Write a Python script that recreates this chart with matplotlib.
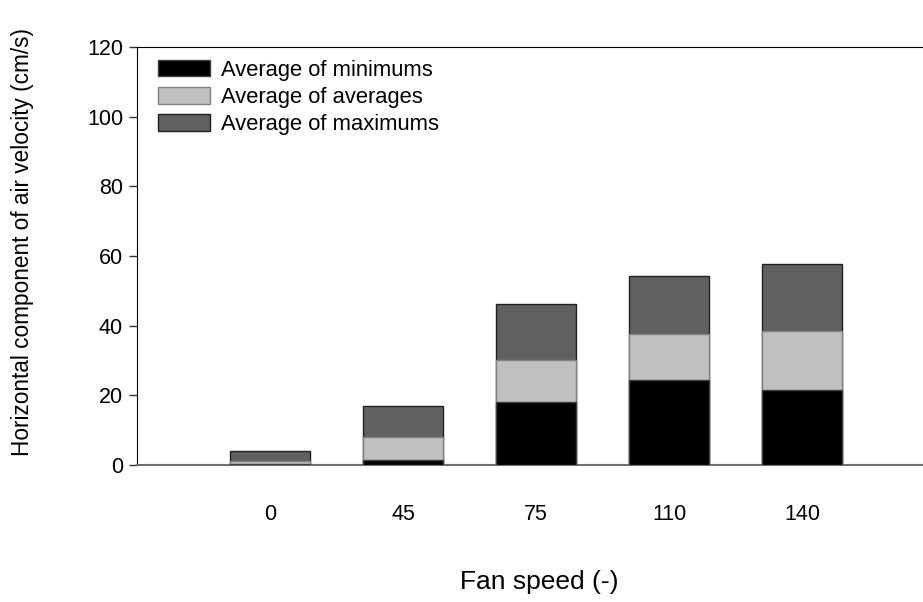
import numpy as np
import matplotlib.pyplot as plt

plt.rcParams['font.family'] = ['Liberation Sans', 'DejaVu Sans']

# fan speed settings and velocities (cm/s)
fan_speed = ['0', '45', '75', '110', '140']
avg_min = [0.2, 1.4, 18.2, 24.5, 21.6]
avg_avg = [1.2, 8.0, 30.1, 37.5, 38.5]
avg_max = [4.0, 16.9, 46.1, 54.2, 57.7]

fig = plt.figure(figsize=(9.23, 6.02), dpi=100)
ax = fig.add_axes([137 / 923, 1 - 465 / 602, 785 / 923, 418 / 602])

x = np.arange(len(fan_speed))
w = 0.6
# bars overlap, all from zero: max behind, min in front
ax.bar(x, avg_max, w, color='#606060', edgecolor='#202020', linewidth=1, label='Average of maximums', zorder=2)
ax.bar(x, avg_avg, w, color='#c0c0c0', edgecolor='#808080', linewidth=1, label='Average of averages', zorder=3)
ax.bar(x, avg_min, w, color='black', edgecolor='#404040', linewidth=1, label='Average of minimums', zorder=4)

ax.set_xlim(-1.0, 4.9)
ax.set_ylim(0, 120)
ax.set_yticks(range(0, 121, 20))
ax.set_xticks(x)
ax.set_xticklabels(fan_speed)
ax.tick_params(axis='x', length=0, pad=28, labelsize=15.5)
ax.tick_params(axis='y', length=6, width=1, direction='out', labelsize=15.5, pad=4, colors='#333333', labelcolor='black')

ax.spines['right'].set_visible(False)
ax.spines['left'].set_color('black')
ax.spines['top'].set_color('black')
ax.spines['bottom'].set_color('#707070')
ax.spines['bottom'].set_linewidth(1.5)

ax.set_xlabel('Fan speed (-)', fontsize=19)
ax.xaxis.set_label_coords(0.513, -0.25)
ax.set_ylabel('Horizontal component of air velocity (cm/s)', fontsize=16.3)
ax.yaxis.set_label_coords(-0.131, 0.533)

handles, labels = ax.get_legend_handles_labels()
ax.legend(handles[::-1], labels[::-1], loc='upper left', bbox_to_anchor=(0.005, 1.012),
          frameon=False, fontsize=15.8, handlelength=2.33, handleheight=0.78,
          labelspacing=0.29, handletextpad=0.5, borderpad=0.3)

fig.savefig('out.png', dpi=100)
